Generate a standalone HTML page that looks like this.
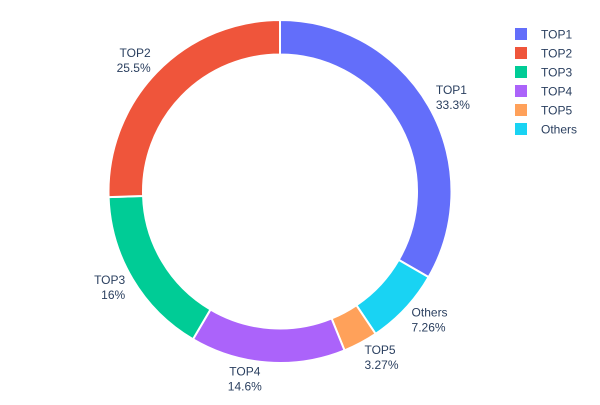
<!DOCTYPE html>
<html><head><meta charset="utf-8"><style>
body{margin:0;background:#fff;font-family:"Liberation Sans",sans-serif}
svg text{font-family:"Liberation Sans",sans-serif;font-size:12px;fill:#2a3f5f}
</style></head><body>
<svg id="chart" width="600" height="400">
<g id="slices"></g>
<g id="labels"></g>
<g id="legend"></g>
</svg>
<script>
const categories=["TOP1","Others","TOP5","TOP4","TOP3","TOP2"];
const values=[33.3,7.26,3.27,14.6,16,25.5];
const labelsText=["33.3%","7.26%","3.27%","14.6%","16%","25.5%"];
const colors=["#636efa","#19d3f3","#FFA15A","#ab63fa","#00cc96","#EF553B"];
const legendOrder=["TOP1","TOP2","TOP3","TOP4","TOP5","Others"];
const NS="http://www.w3.org/2000/svg";
const cx=280,cy=191.5,R=171.5,r=137;
const total=values.reduce((a,b)=>a+b,0);
function pt(a,rad){return [cx+rad*Math.sin(a),cy-rad*Math.cos(a)];}
const gs=document.getElementById('slices'),gl=document.getElementById('labels'),gg=document.getElementById('legend');
let acc=0;
values.forEach((v,i)=>{
  const a0=acc/total*2*Math.PI;acc+=v;const a1=acc/total*2*Math.PI;
  const large=(a1-a0)>Math.PI?1:0;
  const p0=pt(a0,R),p1=pt(a1,R),q1=pt(a1,r),q0=pt(a0,r);
  const p=document.createElementNS(NS,'path');
  p.setAttribute('d',`M${p0}A${R},${R} 0 ${large} 1 ${p1}L${q1}A${r},${r} 0 ${large} 0 ${q0}Z`);
  p.setAttribute('fill',colors[i]);p.setAttribute('stroke','#fff');p.setAttribute('stroke-width','2');
  
  
  gs.appendChild(p);
  const am=(a0+a1)/2;const lp=pt(am,180);
  const s=Math.sin(am),c=Math.cos(am);
  const anchor=Math.abs(s)<0.15?'middle':(s>0?'start':'end');
  let x=lp[0]; if(Math.abs(s)<0.15) x=lp[0]-15*Math.sign(s||1)*-1;
  if(Math.abs(s)<0.15) x=lp[0]-22;
  const yc=lp[1]-c*8;
  const t=document.createElementNS(NS,'text');
  t.setAttribute('x',x);t.setAttribute('y',yc-3.5);t.setAttribute('text-anchor',anchor);
  
  
  const s1=document.createElementNS(NS,'tspan');s1.setAttribute('x',x);s1.textContent=categories[i];
  const s2=document.createElementNS(NS,'tspan');s2.setAttribute('x',x);s2.setAttribute('dy','15');s2.textContent=labelsText[i];
  t.appendChild(s1);t.appendChild(s2);gl.appendChild(t);
});
legendOrder.forEach((c,j)=>{
  const i=categories.indexOf(c);const y=34+j*19;
  const g=document.createElementNS(NS,'g');
  
  
  const rc=document.createElementNS(NS,'rect');
  rc.setAttribute('x',515);rc.setAttribute('y',y-6);rc.setAttribute('width',12);rc.setAttribute('height',12);rc.setAttribute('fill',colors[i]);
  const t=document.createElementNS(NS,'text');t.setAttribute('x',541);t.setAttribute('y',y+4.5);t.textContent=c;
  g.appendChild(rc);g.appendChild(t);gg.appendChild(g);
});
</script>
</body></html>
